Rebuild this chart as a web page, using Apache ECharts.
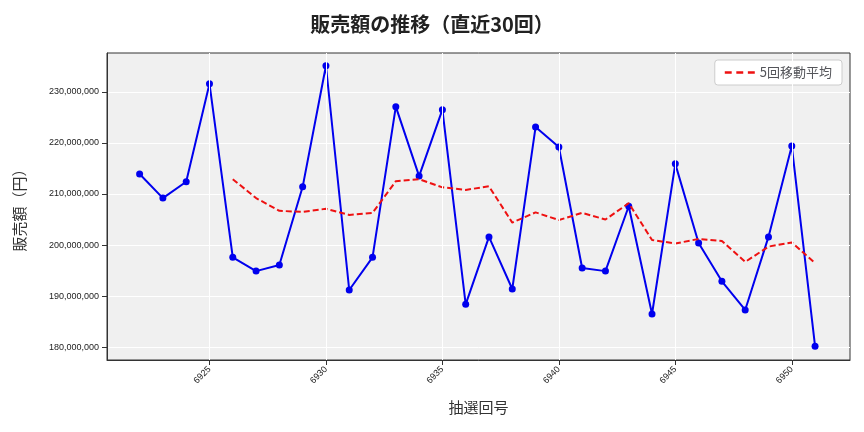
<!DOCTYPE html><html><head><meta charset="utf-8"><script src="https://cdn.jsdelivr.net/npm/echarts@6/dist/echarts.min.js"></script>
<style>body{margin:0}#c{width:864px;height:432px}</style></head><body><div id="c"></div><script>
const draws=[6922,6923,6924,6925,6926,6927,6928,6929,6930,6931,6932,6933,6934,6935,6936,6937,6938,6939,6940,6941,6942,6943,6944,6945,6946,6947,6948,6949,6950,6951];
const sales=[213.9,209.2,212.4,231.6,197.6,194.9,196.1,211.4,235.1,191.2,197.6,227.1,213.5,226.5,188.4,201.6,191.4,223.1,219.2,195.5,194.9,207.6,186.5,215.9,200.4,192.9,187.3,201.6,219.4,180.2];
const maDraws=draws.slice(4);
const ma5=[212.9,209.2,206.7,206.5,207.1,205.9,206.3,212.5,212.9,211.3,210.8,211.5,204.4,206.4,204.9,206.3,205.0,208.2,201.0,200.3,201.2,200.8,196.7,199.7,200.5,196.5];
const xTicks=[6925,6930,6935,6940,6945,6950];
const M=1e6;
const ch=echarts.init(document.getElementById('c'));
ch.setOption({
 title:{text:'販売額の推移（直近30回）',left:'center',top:9,textStyle:{fontSize:20,fontWeight:'bold',color:'#222',fontFamily:'Noto Sans CJK JP'}},
 grid:{left:107,right:14,top:53,bottom:72,show:true,backgroundColor:'#f0f0f0',borderWidth:1,borderColor:'#333'},
 legend:{right:22,top:60,itemWidth:30,backgroundColor:'#fff',borderColor:'#ccc',borderWidth:1,borderRadius:3,padding:[6,10],textStyle:{fontSize:13,fontFamily:'Noto Sans CJK JP'},data:[{name:'5回移動平均',icon:'path://M0,0h6v2h-6zM10,0h6v2h-6zM20,0h6v2h-6z'}]},
 xAxis:{type:'value',min:6920.6,max:6952.5,name:'抽選回号',nameLocation:'middle',nameGap:40,nameTextStyle:{fontSize:15,fontFamily:'Noto Sans CJK JP'},
  axisLine:{lineStyle:{color:'#333'}},axisTick:{show:true,customValues:xTicks},
  axisLabel:{rotate:45,fontSize:9,color:'#222',customValues:xTicks,formatter:v=>String(v)},
  splitLine:{show:false}},
 yAxis:{type:'value',min:177.5*M,max:237.6*M,name:'販売額（円）',nameLocation:'middle',nameGap:80,nameTextStyle:{fontSize:15,fontFamily:'Noto Sans CJK JP'},
  axisLine:{show:true,lineStyle:{color:'#333'}},axisTick:{show:true,customValues:[180e6,190e6,200e6,210e6,220e6,230e6]},
  axisLabel:{fontSize:9,color:'#222',customValues:[180e6,190e6,200e6,210e6,220e6,230e6],formatter:v=>v.toLocaleString('en-US')},
  splitLine:{show:true,lineStyle:{color:'#fff'}}},
 series:[
  {name:'grid',type:'line',data:[],silent:true,markLine:{silent:true,symbol:'none',label:{show:false},lineStyle:{color:'#fff',type:'solid',width:1},data:xTicks.map(v=>({xAxis:v}))},z:1},
  {name:'販売額',type:'line',data:draws.map((d,i)=>[d,sales[i]*M]),symbol:'circle',symbolSize:7,itemStyle:{color:'#0000ee'},lineStyle:{color:'#0000ee',width:2},z:2},
  {name:'5回移動平均',type:'line',data:maDraws.map((d,i)=>[d,ma5[i]*M]),symbol:'none',itemStyle:{color:'#ee1111'},lineStyle:{color:'#ee1111',width:2,type:[6,3]},z:3}
 ]});
</script></body></html>
